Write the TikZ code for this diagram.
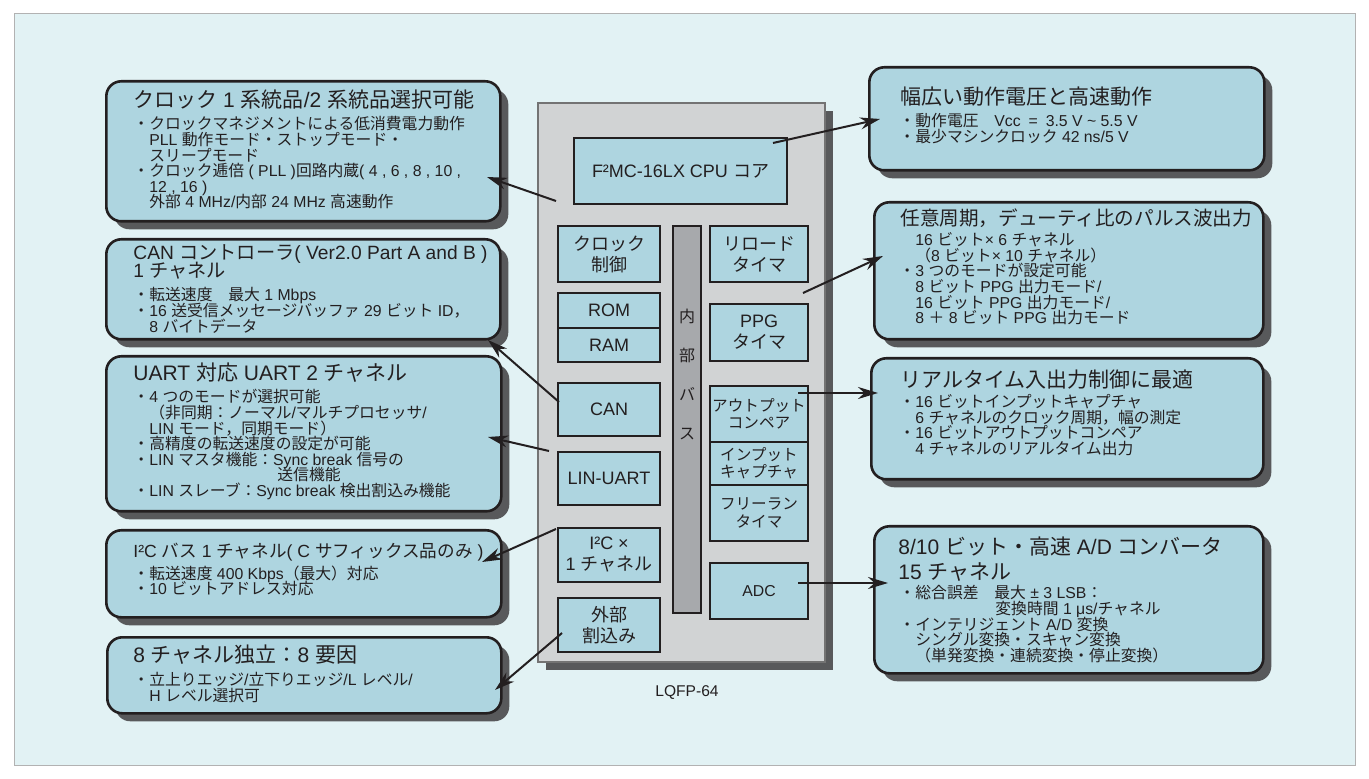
\documentclass[tikz,border=0pt]{standalone}
\usepackage{fontspec}
\setmainfont{Liberation Sans}
\newfontfamily\latinfont{Liberation Sans}
\newfontfamily\jpfont{Noto Sans CJK JP}
\usetikzlibrary{positioning,arrows.meta,shadows}

% Japanese characters in Noto, the rest in Liberation Sans
\XeTeXinterchartokenstate=1
\newXeTeXintercharclass\jpclass
\count255="3000
\loop \XeTeXcharclass\count255=\jpclass \ifnum\count255<"30FF \advance\count255 by 1 \repeat
\count255="4E00
\loop \XeTeXcharclass\count255=\jpclass \ifnum\count255<"9FFF \advance\count255 by 1 \repeat
\count255="FF00
\loop \XeTeXcharclass\count255=\jpclass \ifnum\count255<"FFEF \advance\count255 by 1 \repeat
\XeTeXinterchartoks 0 \jpclass = {\jpfont}
\XeTeXinterchartoks 4095 \jpclass = {\jpfont}
\XeTeXinterchartoks \jpclass 0 = {\latinfont}
\XeTeXinterchartoks \jpclass 4095 = {\latinfont}

\definecolor{bgcyan}{HTML}{E2F2F4}
\definecolor{boxblue}{HTML}{AED5E0}
\definecolor{shadowgray}{HTML}{58595B}
\definecolor{chipgray}{HTML}{D1D3D4}
\definecolor{busgray}{HTML}{A7A9AC}
\definecolor{txtblack}{HTML}{231F20}

\newcommand{\bul}{\hbox to 6pt{\hskip-2pt ・\hss}}
\newcommand{\ind}{\hspace*{6pt}}
\lineskiplimit=-\maxdimen

\begin{document}
\begin{tikzpicture}
  [x=0.5pt, y=-0.5pt,
   infobox/.style={draw=txtblack, line width=1.3pt, rounded corners=7.5pt, fill=boxblue,
     anchor=north west, inner sep=0pt,
     copy shadow={shadow xshift=4pt, shadow yshift=-4pt, fill=shadowgray, draw=none}},
   ttl/.style={anchor=north west, inner sep=0pt, align=left, text=txtblack,
     font=\fontsize{10.5pt}{10pt}\selectfont},
   txt/.style={anchor=north west, inner sep=0pt, align=left, text=txtblack,
     font=\fontsize{7.9pt}{7.8pt}\selectfont},
   blk/.style={draw=txtblack, line width=1.2pt, fill=boxblue, inner sep=0pt, outer sep=0pt,
     align=center, text=txtblack, font=\fontsize{9pt}{10.5pt}\selectfont},
   smallblk/.style={blk, font=\fontsize{7.8pt}{8.6pt}\selectfont},
   arr/.style={line width=1pt, draw=txtblack, -{Stealth[length=10pt, width=6pt]}}]

  % background
  \useasboundingbox (0,0) rectangle (1369,779);
  \fill[white] (0,0) rectangle (1369,779);
  \filldraw[fill=bgcyan, draw=black!30, line width=0.5pt] (14,14) rectangle (1355,765);

  % the chip
  \node[draw=black!55, line width=0.6pt, fill=chipgray, minimum width=143.5pt, minimum height=279.5pt,
    inner sep=0pt, copy shadow={shadow xshift=4pt, shadow yshift=-4pt, fill=shadowgray, draw=none}]
    (chip) at (681.5,382.5) {};
  \node[draw=txtblack, line width=1pt, fill=busgray, minimum width=14pt, minimum height=193.5pt,
    inner sep=0pt] (bus) at (687,419.5) {};
  \node[align=center, inner sep=0pt, text=txtblack, font=\fontsize{8pt}{19.5pt}\selectfont]
    (bustxt) at (687,374) {内\\部\\バ\\ス};

  \node[blk, minimum width=106.5pt, minimum height=33pt] (cpu) at (680.5,171) {F²MC-16LX CPU コア};
  \node[blk, minimum width=51pt, minimum height=28pt] (clkctl) at (609,254) {クロック\\制御};
  \node[blk, minimum width=49pt, minimum height=28pt] (reload) at (759,254) {リロード\\タイマ};
  \node[blk, minimum width=51pt, minimum height=17.5pt] (rom) at (609,310.5) {ROM};
  \node[blk, minimum width=51pt, minimum height=17pt, below=0pt of rom] (ram) {RAM};
  \node[blk, minimum width=51pt, minimum height=26.5pt] (can) at (609,409.5) {CAN};
  \node[blk, minimum width=51pt, minimum height=26.5pt] (linuart) at (609,478.5) {LIN-UART};
  \node[blk, minimum width=51pt, minimum height=27pt] (iic) at (609,555) {I²C ×\\1 チャネル};
  \node[blk, minimum width=51pt, minimum height=27pt] (extint) at (609,625) {外部\\割込み};
  \node[blk, minimum width=49pt, minimum height=28.5pt] (ppg) at (759,332.5) {PPG\\タイマ};
  \node[smallblk, minimum width=49pt, minimum height=28pt] (outcmp) at (759,414) {アウトプット\\コンペア};
  \node[smallblk, minimum width=49pt, minimum height=21.5pt, below=0pt of outcmp] (incap) {インプット\\キャプチャ};
  \node[smallblk, minimum width=49pt, minimum height=28pt, below=0pt of incap] (freerun) {フリーラン\\タイマ};
  \node[blk, minimum width=49pt, minimum height=28pt, font=\fontsize{7.9pt}{10pt}\selectfont] (adc) at (759,591) {ADC};

  \node[inner sep=0pt, text=txtblack, font=\fontsize{7.8pt}{9pt}\selectfont] (pkg) at (687,693) {LQFP-64};

  % left boxes
  \node[infobox, minimum width=197pt, minimum height=70pt] (clkbox) at (105,80) {};
  \node[ttl] (clkttl) at (133,89.5) {クロック 1 系統品/2 系統品選択可能};
  \node[txt] (clktxt) at (137,116.2) {\bul クロックマネジメントによる低消費電力動作\\
    \ind PLL 動作モード・ストップモード・\\
    \ind スリープモード\\
    \bul クロック逓倍 ( PLL )回路内蔵( 4 , 6 , 8 , 10 ,\\
    \ind 12 , 16 )\\
    \ind 外部 4 MHz/内部 24 MHz 高速動作};

  \node[infobox, minimum width=197pt, minimum height=50pt] (canbox) at (105,238) {};
  \node[ttl, font=\fontsize{9.6pt}{9.2pt}\selectfont] (canttl) at (133,244)
    {CAN コントローラ( Ver2.0 Part A and B )\\1 チャネル};
  \node[txt] (cantxt) at (137,287.2) {\bul 転送速度　最大 1 Mbps\\
    \bul 16 送受信メッセージバッファ 29 ビット ID，\\
    \ind 8 バイトデータ};

  \node[infobox, minimum width=197.5pt, minimum height=77.5pt] (uartbox) at (105,355) {};
  \node[ttl] (uartttl) at (133,362.5) {UART 対応 UART 2 チャネル};
  \node[txt] (uarttxt) at (137,389.2) {\bul 4 つのモードが選択可能\\
    \ind （非同期：ノーマル/マルチプロセッサ/\\
    \ind LIN モード，同期モード）\\
    \bul 高精度の転送速度の設定が可能\\
    \bul LIN マスタ機能：Sync break 信号の\\
    \hspace*{70pt}送信機能\\
    \bul LIN スレーブ：Sync break 検出割込み機能};

  \node[infobox, minimum width=197.5pt, minimum height=43.5pt] (iicbox) at (105,529) {};
  \node[ttl, font=\fontsize{8.8pt}{9pt}\selectfont] (iicttl) at (133,543)
    {I²C バス 1 チャネル( C サフィックス品のみ )};
  \node[txt] (iictxt) at (137,565.2) {\bul 転送速度 400 Kbps（最大）対応\\
    \bul 10 ビットアドレス対応};

  \node[infobox, minimum width=197pt, minimum height=38pt] (extbox) at (106,636) {};
  \node[ttl] (extttl) at (133,644.5) {8 チャネル独立：8 要因};
  \node[txt] (exttxt) at (137,672.2) {\bul 立上りエッジ/立下りエッジ/L レベル/\\
    \ind H レベル選択可};

  % right boxes
  \node[infobox, minimum width=197.5pt, minimum height=51.5pt] (vccbox) at (868,66) {};
  \node[ttl] (vccttl) at (900,86.5) {幅広い動作電圧と高速動作};
  \node[txt] (vcctxt) at (903,113.2) {\bul 動作電圧　Vcc\enspace =\enspace 3.5 V \textasciitilde{} 5.5 V\\
    \bul 最少マシンクロック 42 ns/5 V};

  \node[infobox, minimum width=194.5pt, minimum height=68.5pt] (ppgbox) at (873,201) {};
  \node[ttl, font=\fontsize{9.8pt}{10pt}\selectfont] (ppgttl) at (900,208) {任意周期，デューティ比のパルス波出力};
  \node[txt] (ppgtxt) at (903,232.2) {\ind 16 ビット× 6 チャネル\\
    \ind （8 ビット× 10 チャネル）\\
    \bul 3 つのモードが設定可能\\
    \ind 8 ビット PPG 出力モード/\\
    \ind 16 ビット PPG 出力モード/\\
    \ind 8 ＋ 8 ビット PPG 出力モード};

  \node[infobox, minimum width=196pt, minimum height=60.5pt] (rtbox) at (870,357) {};
  \node[ttl] (rtttl) at (900,369.5) {リアルタイム入出力制御に最適};
  \node[txt] (rttxt) at (903,394.2) {\bul 16 ビットインプットキャプチャ\\
    \ind 6 チャネルのクロック周期，幅の測定\\
    \bul 16 ビットアウトプットコンペア\\
    \ind 4 チャネルのリアルタイム出力};

  \node[infobox, minimum width=194.5pt, minimum height=73.5pt] (adcbox) at (873,525) {};
  \node[ttl, font=\fontsize{10.5pt}{12.3pt}\selectfont] (adcttl) at (898,536.5)
    {8/10 ビット・高速 A/D コンバータ\\15 チャネル};
  \node[txt] (adctxt) at (903,585.2) {\bul 総合誤差　最大 ± 3 LSB：\\
    \hspace*{46pt}変換時間 1 μs/チャネル\\
    \bul インテリジェント A/D 変換\\
    \ind シングル変換・スキャン変換\\
    \ind （単発変換・連続変換・停止変換）};

  % connectors
  \coordinate (clkfrom) at (556,201);
  \coordinate (clkto) at (487,177);
  \coordinate (canfrom) at (559,402);
  \coordinate (canto) at (488,340);
  \coordinate (uartfrom) at (549,451);
  \coordinate (uartto) at (488,437);
  \coordinate (iicfrom) at (556,529);
  \coordinate (iicto) at (482,562);
  \coordinate (extfrom) at (562,633);
  \coordinate (extto) at (495,690);
  \coordinate (vccfrom) at (773,143);
  \coordinate (vccto) at (880,119);
  \coordinate (ppgfrom) at (803,293);
  \coordinate (ppgto) at (883,256);
  \coordinate (rtfrom) at (798,393);
  \coordinate (rtto) at (878,393);
  \coordinate (adcfrom) at (798,583);
  \coordinate (adcto) at (888,583);

  \draw[arr] (clkfrom) -- (clkto);
  \draw[arr] (canfrom) -- (canto);
  \draw[arr] (uartfrom) -- (uartto);
  \draw[arr] (iicfrom) -- (iicto);
  \draw[arr] (extfrom) -- (extto);
  \draw[arr] (vccfrom) -- (vccto);
  \draw[arr] (ppgfrom) -- (ppgto);
  \draw[arr] (rtfrom) -- (rtto);
  \draw[arr] (adcfrom) -- (adcto);
\end{tikzpicture}
\end{document}
